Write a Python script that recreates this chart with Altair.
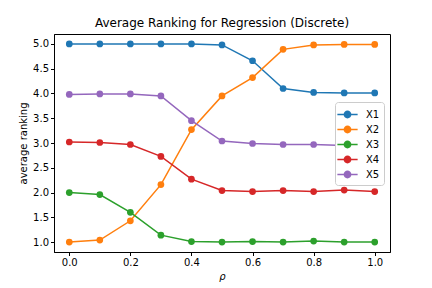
import altair as alt
import pandas as pd

rho = [0.0, 0.1, 0.2, 0.3, 0.4, 0.5, 0.6, 0.7, 0.8, 0.9, 1.0]
X1 = [5.0, 5.0, 5.0, 5.0, 5.0, 4.98, 4.66, 4.10, 4.02, 4.01, 4.01]
X2 = [1.0, 1.04, 1.43, 2.16, 3.27, 3.95, 4.32, 4.89, 4.98, 4.99, 4.99]
X3 = [2.0, 1.96, 1.60, 1.14, 1.01, 1.00, 1.01, 1.00, 1.02, 1.00, 1.00]
X4 = [3.02, 3.01, 2.97, 2.73, 2.27, 2.04, 2.02, 2.04, 2.02, 2.05, 2.02]
X5 = [3.98, 3.99, 3.99, 3.95, 3.45, 3.04, 2.99, 2.97, 2.97, 2.95, 2.95]
series = ["X1", "X2", "X3", "X4", "X5"]
colors = ["#1f77b4", "#ff7f0e", "#2ca02c", "#d62728", "#9467bd"]

rows = []
for name, vals in zip(series, [X1, X2, X3, X4, X5]):
    for r, v in zip(rho, vals):
        rows.append({"rho": r, "value": v, "series": name})
df = pd.DataFrame(rows)

font = "DejaVu Sans"
x = alt.X("rho:Q", title="ρ", scale=alt.Scale(domain=[-0.05, 1.05], nice=False, zero=False),
          axis=alt.Axis(values=[0, 0.2, 0.4, 0.6, 0.8, 1.0], format=".1f", grid=False,
                        titleFontStyle="italic"))
y = alt.Y("value:Q", title="average ranking", scale=alt.Scale(domain=[0.8, 5.2], nice=False, zero=False),
          axis=alt.Axis(values=[1.0, 1.5, 2.0, 2.5, 3.0, 3.5, 4.0, 4.5, 5.0], format=".1f", grid=False))
legend_symbol = ("M-1.35,0H1.35M0.42,0A0.42,0.42,0,1,1,-0.42,0A0.42,0.42,0,1,1,0.42,0Z")
color = alt.Color("series:N", scale=alt.Scale(domain=series, range=colors),
                  legend=alt.Legend(title=None, orient="none", legendX=281, legendY=68,
                                    fillColor="white", strokeColor="#cccccc", padding=4,
                                    cornerRadius=3, labelFontSize=10, labelFont=font,
                                    symbolType=legend_symbol, symbolSize=225,
                                    symbolStrokeWidth=1.5, rowPadding=0, labelOffset=10))

lines = alt.Chart(df).mark_line(strokeWidth=1.5).encode(x=x, y=y, color=color)
points = alt.Chart(df).mark_point(filled=True, size=45, opacity=1).encode(x=x, y=y, color=color)

chart = (lines + points).properties(
    width=336, height=218,
    title=alt.Title("Average Ranking for Regression (Discrete)", font=font, fontSize=12, fontWeight="normal"),
    autosize=alt.AutoSizeParams(type="none"),
    padding={"left": 46, "top": 26, "right": 30, "bottom": 40},
    background="white",
).configure_axis(
    labelFont=font, titleFont=font, labelFontSize=10, titleFontSize=10, titleFontWeight="normal",
    domainColor="black", tickColor="black", labelColor="black", titleColor="black",
    tickSize=3.5,
).configure_view(stroke="black", strokeWidth=1)

chart.save("out.html", embed_options={"renderer": "svg", "actions": False})
